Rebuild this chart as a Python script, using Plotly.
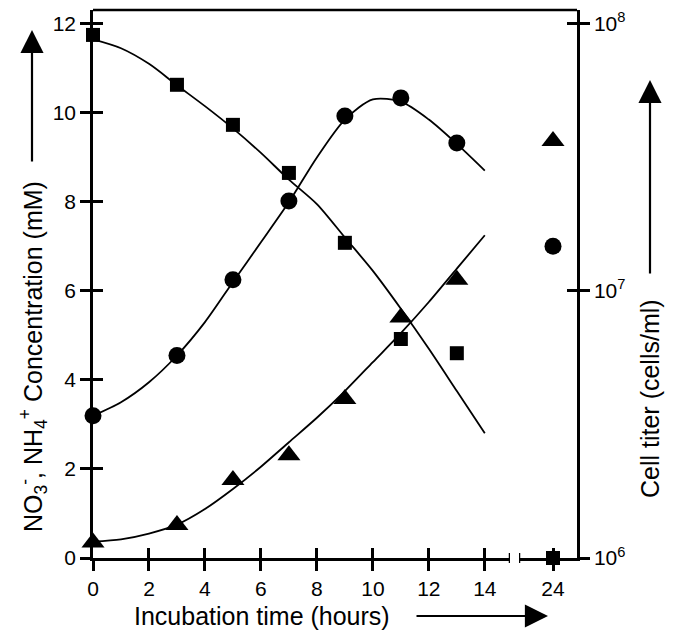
import plotly.graph_objects as go

# ---------------- data ----------------
time_h = [0, 3, 5, 7, 9, 11, 13, 24]
nitrate_mM = [11.75, 10.63, 9.73, 8.65, 7.08, 4.92, 4.60, 0.0]
ammonium_mM = [0.35, 0.74, 1.75, 2.31, 3.57, 5.40, 6.25, 9.37]
cells_per_ml = [3.41e6, 5.73e6, 1.10e7, 2.17e7, 4.52e7, 5.28e7, 3.58e7, 1.47e7]

fit_t = [0, 1, 2, 3, 4, 5, 6, 7, 8, 9, 10, 11, 12, 13, 14]
nitrate_fit = [11.65, 11.45, 11.1, 10.62, 10.15, 9.65, 9.1, 8.5, 7.95, 7.2, 6.45, 5.6, 4.7, 3.75, 2.8]
ammonium_fit = [0.37, 0.42, 0.55, 0.75, 1.1, 1.55, 2.05, 2.6, 3.15, 3.75, 4.4, 5.05, 5.75, 6.5, 7.25]
cells_fit = [3.41e6, 3.83e6, 4.55e6, 5.73e6, 7.64e6, 1.08e7, 1.52e7, 2.15e7, 3.16e7,
             4.38e7, 5.21e7, 5.11e7, 4.38e7, 3.55e7, 2.82e7]

x_ticks_main = [0, 2, 4, 6, 8, 10, 12, 14]
x_ticks_late = [24]
y_ticks_left = [0, 2, 4, 6, 8, 10, 12]
y_ticks_right = [1e6, 1e7, 1e8]
y_ticktext_right = ["10<sup>6</sup>", "10<sup>7</sup>", "10<sup>8</sup>"]

# ---------------- styling ----------------
FONT = "Liberation Sans, Arial, sans-serif"
TICKF = dict(family=FONT, size=21, color="black")
AXW = 2.5
BREAK_T = 14.9
OFF = 8                       # page body margin of the browser
REF_L, REF_R, REF_T, REF_B = 93, 577, 10, 558   # plot frame in the reference (px)
W, H = 675 - OFF, 630 - OFF
L, T = REF_L - OFF, REF_T - OFF
R = W - (REF_R - OFF)
B = H - (REF_B - OFF)
pw = REF_R - REF_L
ph = REF_B - REF_T

def px_x(p):
    return (p - REF_L) / pw

def px_y(p):
    return (REF_B - p) / ph

d1 = px_x(510)
d2 = px_x(519)
x2_range = [24 - (553 - 519) / 28.0, 24 + (577 - 553) / 28.0]

early = [i for i, t in enumerate(time_h) if t <= 14]
late = [i for i, t in enumerate(time_h) if t > 14]

fig = go.Figure()

line_style = dict(color="black", width=1.8, shape="spline", smoothing=0.8)

# fitted curves
fig.add_trace(go.Scatter(x=fit_t, y=nitrate_fit, mode="lines", line=line_style,
                         xaxis="x", yaxis="y", showlegend=False, hoverinfo="skip"))
fig.add_trace(go.Scatter(x=fit_t, y=ammonium_fit, mode="lines", line=line_style,
                         xaxis="x", yaxis="y", showlegend=False, hoverinfo="skip"))
fig.add_trace(go.Scatter(x=fit_t, y=cells_fit, mode="lines", line=line_style,
                         xaxis="x", yaxis="y2", showlegend=False, hoverinfo="skip"))

sq = dict(symbol="square", size=14, color="black")
tri = dict(symbol="triangle-up", size=20, color="black")
cir = dict(symbol="circle", size=17, color="black")

for idx, xa in ((early, "x"), (late, "x2")):
    fig.add_trace(go.Scatter(x=[time_h[i] for i in idx], y=[nitrate_mM[i] for i in idx],
                             mode="markers", marker=sq, xaxis=xa, yaxis="y",
                             cliponaxis=False, showlegend=False, name="NO3-"))
    fig.add_trace(go.Scatter(x=[time_h[i] for i in idx], y=[ammonium_mM[i] for i in idx],
                             mode="markers", marker=tri, xaxis=xa, yaxis="y",
                             cliponaxis=False, showlegend=False, name="NH4+"))
    fig.add_trace(go.Scatter(x=[time_h[i] for i in idx], y=[cells_per_ml[i] for i in idx],
                             mode="markers", marker=cir, xaxis=xa, yaxis="y2",
                             cliponaxis=False, showlegend=False, name="Cell titer"))

# dummy traces so the inside-tick overlay axes get drawn
fig.add_trace(go.Scatter(x=[None], y=[None], xaxis="x3", yaxis="y3", showlegend=False))
fig.add_trace(go.Scatter(x=[None], y=[None], xaxis="x4", yaxis="y4", showlegend=False))

common = dict(showgrid=False, zeroline=False, tickcolor="black", tickwidth=AXW,
              ticklen=10, tickfont=TICKF)

fig.update_layout(
    width=W, height=H,
    margin=dict(l=L, r=R, t=T, b=B),
    paper_bgcolor="white", plot_bgcolor="white",
    font=dict(family=FONT, color="black"),
    xaxis=dict(domain=[0, d1], range=[0, BREAK_T], anchor="y", tickmode="array",
               tickvals=x_ticks_main, ticks="outside", showline=True,
               linecolor="black", linewidth=AXW, **common),
    xaxis2=dict(domain=[d2, 1], range=x2_range, anchor="y", tickmode="array",
                tickvals=x_ticks_late, ticks="outside", showline=True,
                linecolor="black", linewidth=AXW, **common),
    xaxis3=dict(overlaying="x", range=[0, BREAK_T], anchor="y", tickmode="array",
                tickvals=x_ticks_main, ticks="inside", showticklabels=False,
                showline=False, **common),
    xaxis4=dict(overlaying="x2", range=x2_range, anchor="y", tickmode="array",
                tickvals=x_ticks_late, ticks="inside", showticklabels=False,
                showline=False, **common),
    yaxis=dict(range=[0, 12.31], anchor="x", tickmode="array", tickvals=y_ticks_left,
               ticks="outside", showline=True, linecolor="black", linewidth=AXW, **common),
    yaxis3=dict(overlaying="y", range=[0, 12.31], anchor="x", tickmode="array",
                tickvals=y_ticks_left, ticks="inside", showticklabels=False,
                showline=False, **common),
    yaxis2=dict(overlaying="y", side="right", anchor="x2", type="log", range=[6, 6 + 12.31 / 6],
                tickmode="array", tickvals=y_ticks_right, ticktext=y_ticktext_right,
                ticks="outside", showline=True, linecolor="black", linewidth=AXW, **common),
    yaxis4=dict(overlaying="y", side="right", anchor="x2", type="log", range=[6, 6 + 12.31 / 6],
                tickmode="array", tickvals=y_ticks_right, ticks="inside",
                showticklabels=False, showline=False, **common),
)

# top frame line and axis-break marks
fig.add_shape(type="line", xref="paper", yref="paper", x0=0, x1=1, y0=1, y1=1,
              line=dict(color="black", width=AXW))
for xr, xv in (("x", BREAK_T), ("x2", x2_range[0])):
    fig.add_shape(type="line", xref=xr, yref="paper", ysizemode="pixel", yanchor=0,
                  x0=xv, x1=xv, y0=-5, y1=5, line=dict(color="black", width=AXW))

TITLEF = dict(family=FONT, size=25, color="black")
ARROW = dict(showarrow=True, arrowhead=2, arrowsize=2.1, arrowwidth=2.2,
             arrowcolor="black", standoff=0)
fig.add_annotation(text="Incubation time (hours)", xref="paper", yref="paper",
                   x=px_x(261.5), y=px_y(616), showarrow=False, font=TITLEF,
                   xanchor="center", yanchor="middle")
fig.add_annotation(text="", xref="paper", yref="paper", x=px_x(548), y=px_y(616),
                   ax=-133, ay=0, **ARROW)
fig.add_annotation(text="NO<sub>3</sub><sup>-</sup>, NH<sub>4</sub><sup>+</sup> Concentration (mM)",
                   xref="paper", yref="paper", x=px_x(33), y=px_y(357), textangle=-90,
                   showarrow=False, font=TITLEF, xanchor="center", yanchor="middle")
fig.add_annotation(text="", xref="paper", yref="paper", x=px_x(32), y=px_y(30),
                   ax=0, ay=133, **ARROW)
fig.add_annotation(text="Cell titer (cells/ml)", xref="paper", yref="paper",
                   x=px_x(650), y=px_y(399), textangle=-90, showarrow=False,
                   font=TITLEF, xanchor="center", yanchor="middle")
fig.add_annotation(text="", xref="paper", yref="paper", x=px_x(650), y=px_y(80),
                   ax=0, ay=195, **ARROW)

fig.write_html("out.html")
